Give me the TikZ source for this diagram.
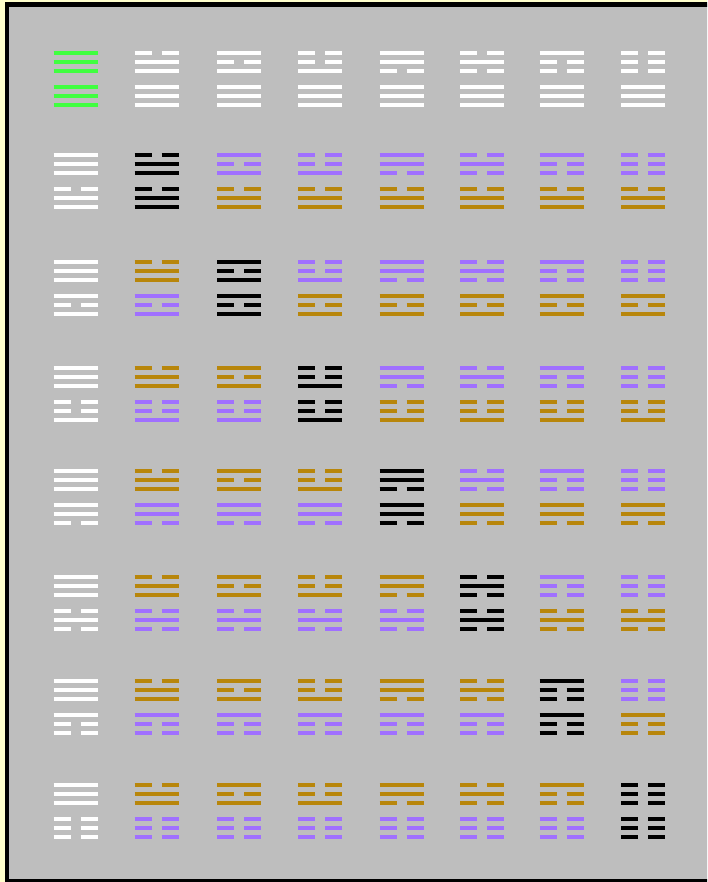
\documentclass[tikz,border=0pt]{standalone}
\definecolor{bgGray}{RGB}{190,190,190}
\definecolor{marginYellow}{RGB}{255,255,204}
\definecolor{hxpurple}{RGB}{160,112,255}
\definecolor{hxgold}{RGB}{184,134,11}
\definecolor{hxgreen}{RGB}{64,255,64}
\newcommand\hxline[4]{%
  \pgfmathsetmacro\hxy{#2}%
  \ifnum#3=1
    \draw[yao,draw=#4] ({#1-22},\hxy) -- ({#1+22},\hxy);
  \else
    \draw[yao,draw=#4] ({#1-22},\hxy) -- ({#1-5},\hxy) ({#1+5},\hxy) -- ({#1+22},\hxy);
  \fi}
\newcommand\hxtri[4]{%
  \pgfmathtruncatemacro\hxa{{1,0,1,0,1,0,1,0}[#3-1]}%
  \pgfmathtruncatemacro\hxb{{1,1,0,0,1,1,0,0}[#3-1]}%
  \pgfmathtruncatemacro\hxc{{1,1,1,1,0,0,0,0}[#3-1]}%
  \hxline{#1}{#2}{\hxa}{#4}%
  \hxline{#1}{#2+9}{\hxb}{#4}%
  \hxline{#1}{#2+18}{\hxc}{#4}}
\begin{document}
\begin{tikzpicture}[x=1pt,y=-1pt,yao/.style={line width=4pt,line cap=butt}]
\useasboundingbox (0,0) rectangle (707,882);
\clip (0,0) rectangle (707,882);
\fill[marginYellow] (0,0) rectangle (707,882);
\draw[line width=4.4pt,fill=bgGray] (7,4.5) rectangle (715,880.8);
\foreach \r [count=\ri] in {53,155,262,368,471,577,681,785}{
  \foreach \cx [count=\ci] in {75.7,156.7,239,320.1,401.5,482,561.5,643.1}{
    \ifnum\ri=1
      \ifnum\ci=1 \def\cu{hxgreen}\def\cl{hxgreen}\else \def\cu{white}\def\cl{white}\fi
    \else
      \ifnum\ci=1 \def\cu{white}\def\cl{white}%
      \else
        \ifnum\ri=\ci \def\cu{black}\def\cl{black}%
        \else
          \ifnum\ci>\ri \def\cu{hxpurple}\def\cl{hxgold}%
          \else \def\cu{hxgold}\def\cl{hxpurple}\fi
        \fi
      \fi
    \fi
    \hxtri{\cx}{\r}{\ci}{\cu}
    \hxtri{\cx}{\r+34}{\ri}{\cl}
  }
}
\end{tikzpicture}
\end{document}
